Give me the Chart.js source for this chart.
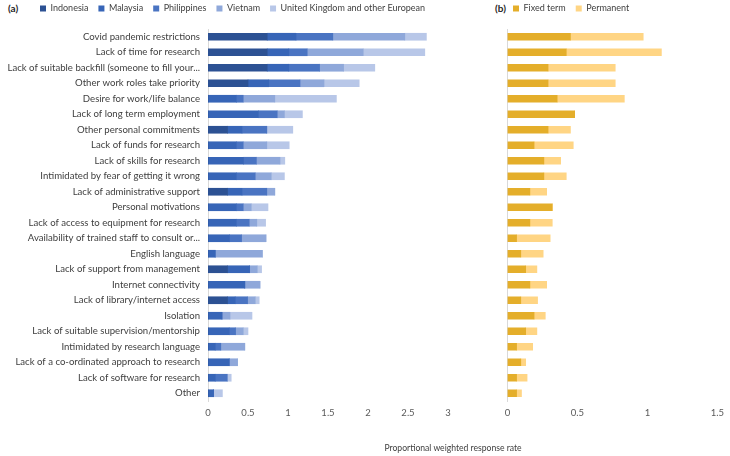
<!DOCTYPE html>
<html>
<head>
<meta charset="utf-8">
<script src="https://cdn.jsdelivr.net/npm/chart.js@4.4.0/dist/chart.umd.min.js"></script>
<style>
  body { margin: 0; background: #fff; width: 730px; height: 456px; position: relative; overflow: hidden; font-family: 'Lato', sans-serif; }
  canvas { position: absolute; top: 0; }
  #chartA { left: 0; }
  #chartB { left: 460px; }
  .panel { position: absolute; top: 2px; font-weight: bold; font-size: 10px; color: #262626; }
  #axisTitle { position: absolute; top: 443px; left: 353px; width: 200px; text-align: center; font-size: 8.6px; color: #404040; }
</style>
</head>
<body>
<div class="panel" style="left:8px">(a)</div>
<div class="panel" style="left:495px">(b)</div>
<canvas id="chartA" width="460" height="456"></canvas>
<canvas id="chartB" width="270" height="456"></canvas>
<div id="axisTitle">Proportional weighted response rate</div>
<script>
const categories = [
    'Covid pandemic restrictions',
    'Lack of time for research',
    'Lack of suitable backfill (someone to fill your...',
    'Other work roles take priority',
    'Desire for work/life balance',
    'Lack of long term employment',
    'Other personal commitments',
    'Lack of funds for research',
    'Lack of skills for research',
    'Intimidated by fear of getting it wrong',
    'Lack of administrative support',
    'Personal motivations',
    'Lack of access to equipment for research',
    'Availability of trained staff to consult or...',
    'English language',
    'Lack of support from management',
    'Internet connectivity',
    'Lack of library/internet access',
    'Isolation',
    'Lack of suitable supervision/mentorship',
    'Intimidated by research language',
    'Lack of a co-ordinated approach to research',
    'Lack of software for research',
    'Other'
];

// (a) by country
const indonesia   = [0.74, 0.74, 0.74, 0.50, 0, 0, 0.245, 0, 0, 0, 0.245, 0, 0, 0, 0, 0.245, 0, 0.245, 0, 0, 0, 0, 0, 0];
const malaysia    = [0.36, 0.27, 0.27, 0.26, 0.355, 0.63, 0.18, 0.355, 0.445, 0.355, 0.18, 0.355, 0.355, 0.27, 0.09, 0.275, 0.46, 0.095, 0.175, 0.265, 0.09, 0.265, 0.09, 0.07];
const philippines = [0.46, 0.23, 0.385, 0.39, 0.085, 0.235, 0.31, 0.085, 0.16, 0.235, 0.31, 0.085, 0.16, 0.15, 0, 0, 0, 0.155, 0, 0.08, 0.07, 0, 0.15, 0];
const vietnam     = [0.90, 0.70, 0.30, 0.30, 0.395, 0.09, 0, 0.295, 0.295, 0.20, 0.10, 0.10, 0.095, 0.305, 0.59, 0.095, 0.19, 0.095, 0.10, 0.095, 0.30, 0.105, 0, 0];
const ukEurope    = [0.27, 0.77, 0.39, 0.44, 0.77, 0.225, 0.325, 0.28, 0.06, 0.165, 0, 0.21, 0.11, 0, 0, 0.055, 0, 0.05, 0.275, 0.06, 0, 0, 0.05, 0.11];

// (b) by contract type
const fixedTerm = [0.45, 0.42, 0.29, 0.29, 0.355, 0.48, 0.29, 0.19, 0.26, 0.26, 0.16, 0.32, 0.16, 0.065, 0.095, 0.13, 0.16, 0.095, 0.19, 0.13, 0.065, 0.095, 0.065, 0.065];
const permanent = [0.52, 0.68, 0.48, 0.48, 0.48, 0, 0.16, 0.28, 0.12, 0.16, 0.12, 0, 0.16, 0.24, 0.16, 0.08, 0.12, 0.12, 0.08, 0.08, 0.115, 0.035, 0.075, 0.035];

const xMaxA = 3;
const xMaxB = 1.5;
const xStep = 0.5;

const textColor = '#404040';
const tickColor = '#595959';

// move the legend next to the panel letter, a bit higher than chart.js puts it
const legendPlace = {
    id: 'legendPlace',
    afterLayout(chart, args, opts) {
        const legend = chart.legend;
        if (!legend) return;
        legend.left = opts.left;
        legend.right = chart.width;
        legend.top += opts.shiftY;
    }
};

function baseOptions(xMax, padRight, yWidth, showLabels, legendLeft) {
    return {
        indexAxis: 'y',
        responsive: false,
        animation: false,
        layout: { padding: { left: 0, right: padRight, top: 0, bottom: 0 } },
        datasets: { bar: { barThickness: 7 } },
        plugins: {
            legend: {
                align: 'start',
                labels: { boxWidth: 6, boxHeight: 6, padding: 10, color: textColor, font: { size: 9 } }
            },
            legendPlace: { left: legendLeft, shiftY: -6 },
            tooltip: { enabled: false }
        },
        scales: {
            x: {
                stacked: true,
                min: 0,
                max: xMax,
                ticks: { stepSize: xStep, color: tickColor, font: { size: 9.5 }, padding: 6, callback: (v) => String(v) },
                grid: { display: false, drawTicks: false },
                border: { display: false },
                afterFit: (s) => { s.height = 55; }
            },
            y: {
                stacked: true,
                grid: { display: false, drawTicks: false },
                border: { color: '#D9D9D9' },
                ticks: { display: showLabels, autoSkip: false, padding: 8, color: textColor, font: { size: 9.6 } },
                afterFit: (s) => { s.width = yWidth; }
            }
        }
    };
}

Chart.defaults.font.family = "'Lato', sans-serif";

new Chart(document.getElementById('chartA'), {
    type: 'bar',
    data: {
        labels: categories,
        datasets: [
            { label: 'Indonesia', data: indonesia, backgroundColor: '#2C5193' },
            { label: 'Malaysia', data: malaysia, backgroundColor: '#3765B7' },
            { label: 'Philippines', data: philippines, backgroundColor: '#4A74C2' },
            { label: 'Vietnam', data: vietnam, backgroundColor: '#8FA8DA' },
            { label: 'United Kingdom and other European', data: ukEurope, backgroundColor: '#B8C7E8' }
        ]
    },
    options: baseOptions(xMaxA, 12, 208, true, 30),
    plugins: [legendPlace]
});

new Chart(document.getElementById('chartB'), {
    type: 'bar',
    data: {
        labels: categories,
        datasets: [
            { label: 'Fixed term', data: fixedTerm, backgroundColor: '#E4AE2A' },
            { label: 'Permanent', data: permanent, backgroundColor: '#FFD584' }
        ]
    },
    options: baseOptions(xMaxB, 8, 47.5, false, 43),
    plugins: [legendPlace]
});
</script>
</body>
</html>
